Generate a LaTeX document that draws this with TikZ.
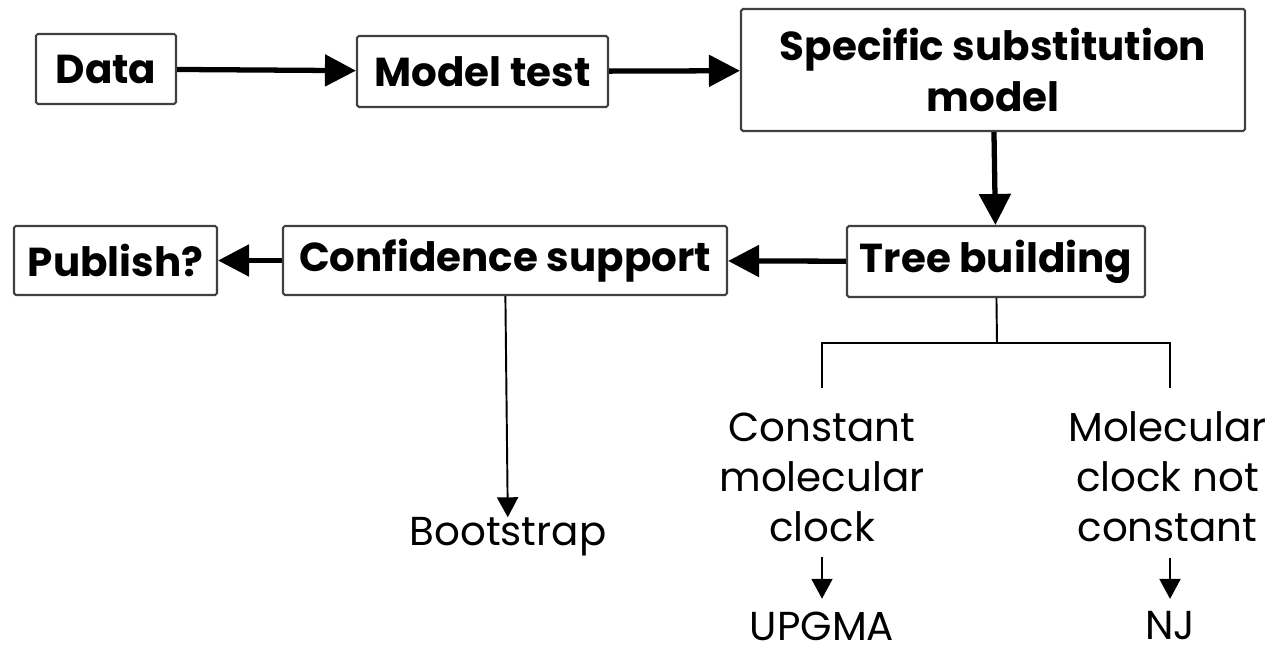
\documentclass[tikz,border=0pt]{standalone}
\usepackage{fontspec}
\usepackage{xcolor}
\usepackage{tikz}
\usetikzlibrary{arrows.meta}
\setmainfont{Poppins}

\begin{document}
\begin{tikzpicture}
  [box/.style={draw=black!75,line width=1.2pt,rounded corners=1pt,fill=white,
     align=center,font=\fontsize{23}{28.5}\selectfont\bfseries,inner sep=0pt},
   lbl/.style={align=center,font=\fontsize{23}{28.5}\selectfont,inner sep=0pt},
   bigarrow/.style={line width=3pt,-{Triangle[length=0.62cm,width=0.62cm]}},
   smallarrow/.style={line width=1.1pt,-{Triangle[length=0.4cm,width=0.42cm]}}]
  \useasboundingbox (0,0) rectangle (25.58,13.16);

  \node[box,minimum width=2.8cm,minimum height=1.4cm] (data) at (2.12,11.78) {Data};
  \node[box,minimum width=5.02cm,minimum height=1.42cm] (test) at (9.65,11.73) {Model test};
  \node[box,minimum width=10.08cm,minimum height=2.44cm] (model) at (19.86,11.76) {Specific substitution\\model};
  \node[box,minimum width=5.96cm,minimum height=1.42cm] (tree) at (19.92,7.93) {Tree building};
  \node[box,minimum width=8.88cm,minimum height=1.38cm] (conf) at (10.1,7.95) {Confidence support};
  \node[box,minimum width=4.06cm,minimum height=1.38cm] (pub) at (2.31,7.95) {Publish?};

  \node[lbl] (clock) at (16.44,3.62) {Constant\\molecular\\clock};
  \node[lbl] (noclock) at (23.35,3.62) {Molecular\\clock not\\constant};
  \node[lbl] (boot) at (10.16,2.42) {Bootstrap};
  \node[lbl] (upgma) at (16.44,0.64) {UPGMA};
  \node[lbl] (nj) at (23.4,0.64) {NJ};

  \coordinate (fork) at (19.94,6.3);
  \coordinate (left) at (16.44,5.4);
  \coordinate (right) at (23.4,5.4);

  \foreach \from/\to in {data/test,test/model,model/tree,tree/conf,conf/pub}
    \draw[bigarrow] (\from) -- (\to);

  \draw[line width=1.1pt] (tree) -- (fork);
  \draw[line width=1.1pt] (left) |- (fork) -| (right);
  \draw[smallarrow] (conf) -- (boot);
  \draw[smallarrow,shorten <=0.3cm,shorten >=0.25cm] (clock) -- (upgma);
  \draw[smallarrow,shorten <=0.3cm,shorten >=0.25cm] (noclock.south -| nj) -- (nj);

\end{tikzpicture}
\end{document}
